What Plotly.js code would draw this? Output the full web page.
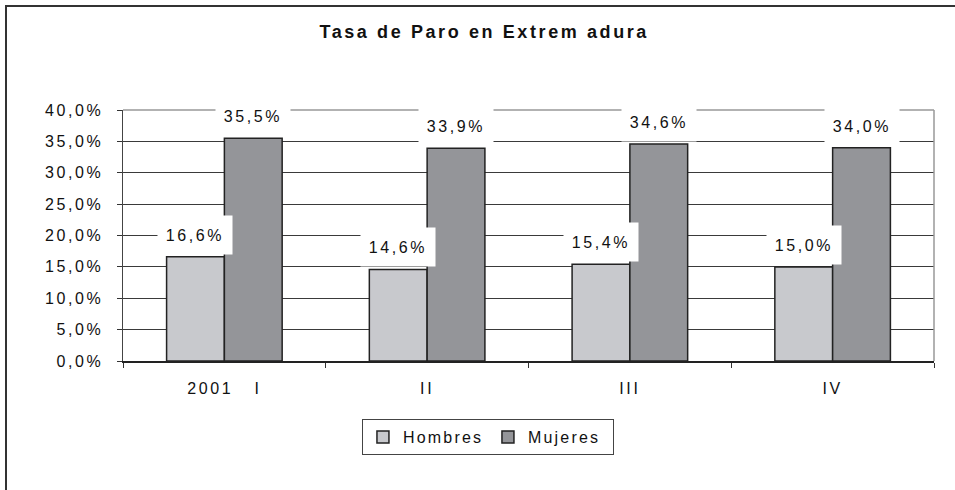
<!DOCTYPE html>
<html>
<head>
<meta charset="utf-8">
<script src="https://cdn.plot.ly/plotly-3.0.1.min.js"></script>
<style>
  html, body { margin: 0; padding: 0; background: #fff; }
  #frame { position: absolute; left: 5px; top: 5px; width: 2000px; height: 2000px;
           border-top: 2px solid #333; border-left: 2px solid #333; pointer-events: none; }
  #chart { position: absolute; left: 0; top: 0; width: 955px; height: 490px; }
  #chart text { letter-spacing: 2.6px; }
  #chart .gtitle { letter-spacing: 2.6px; }
  #chart .legendtext { letter-spacing: 2.2px; }
</style>
</head>
<body>
<div id="chart"></div>
<div id="frame"></div>
<script>
const categories = ["2001\u00A0\u00A0\u00A0I", "II", "III", "IV"];
const hombres = [16.6, 14.6, 15.4, 15.0];
const mujeres = [35.5, 33.9, 34.6, 34.0];
const yTicks = [0, 5, 10, 15, 20, 25, 30, 35, 40];

const fmt = v => v.toFixed(1).replace('.', ',') + '%';
const bargap = 0.43;
const off = (1 - bargap) / 4;

const traces = [
  { type: 'bar', name: 'Hombres', x: categories, y: hombres,
    marker: { color: '#C8C9CD', line: { color: '#222', width: 1.5 } }, hoverinfo: 'none' },
  { type: 'bar', name: 'Mujeres', x: categories, y: mujeres,
    marker: { color: '#949599', line: { color: '#222', width: 1.5 } }, hoverinfo: 'none' }
];

const annFont = { family: 'Liberation Sans, Arial, sans-serif', size: 16, color: '#111' };
const annotations = [];
[hombres, mujeres].forEach((series, s) => {
  series.forEach((v, i) => {
    annotations.push({
      x: i + (s === 0 ? -off : off), y: v, xref: 'x', yref: 'y',
      text: fmt(v), showarrow: false, yanchor: 'bottom', xanchor: 'center',
      yshift: 2, bgcolor: '#fff', width: 72, height: 36, font: annFont
    });
  });
});

const layout = {
  width: 955, height: 490,
  margin: { l: 123, r: 21, t: 110, b: 129 },
  paper_bgcolor: 'rgba(0,0,0,0)', plot_bgcolor: '#fff',
  font: { family: 'Liberation Sans, Arial, sans-serif', size: 16, color: '#111' },
  title: { text: 'Tasa de Paro en Extrem adura', x: 0.507, xanchor: 'center', y: 0.935, yanchor: 'middle',
           font: { family: 'Liberation Sans, Arial, sans-serif', size: 18, weight: 'bold', color: '#111' } },
  barmode: 'group', bargap: bargap, bargroupgap: 0,
  xaxis: { type: 'category', tickson: 'boundaries', ticks: 'outside', ticklen: 5, tickcolor: '#333',
           showline: true, linecolor: '#222', linewidth: 1.5, showgrid: false,
           ticklabelstandoff: 12, tickfont: { size: 16, color: '#111' } },
  yaxis: { range: [0, 40], tickvals: yTicks, ticktext: yTicks.map(fmt), ticks: 'outside', ticklen: 5,
           tickcolor: '#333', showline: true, linecolor: '#444', linewidth: 1.5,
           showgrid: true, gridcolor: '#3a3a3a', gridwidth: 1, zeroline: false,
           ticklabelstandoff: 10, tickfont: { size: 16, color: '#111' } },
  showlegend: true,
  legend: { orientation: 'h', x: 0.45, xanchor: 'center', y: -0.303, yanchor: 'middle',
            bordercolor: '#444', borderwidth: 1, bgcolor: '#fff',
            entrywidth: 80, entrywidthmode: 'pixels',
            font: { size: 16, color: '#111' }, itemwidth: 30, tracegroupgap: 0 },
  shapes: [
    { type: 'line', xref: 'paper', yref: 'paper', x0: 0, x1: 1, y0: 1, y1: 1, line: { color: '#999', width: 1.5 } },
    { type: 'line', xref: 'paper', yref: 'paper', x0: 1, x1: 1, y0: 0, y1: 1, line: { color: '#999', width: 1.5 } }
  ],
  annotations: annotations
};

Plotly.newPlot('chart', traces, layout, { displayModeBar: false, staticPlot: true });
</script>
</body>
</html>
